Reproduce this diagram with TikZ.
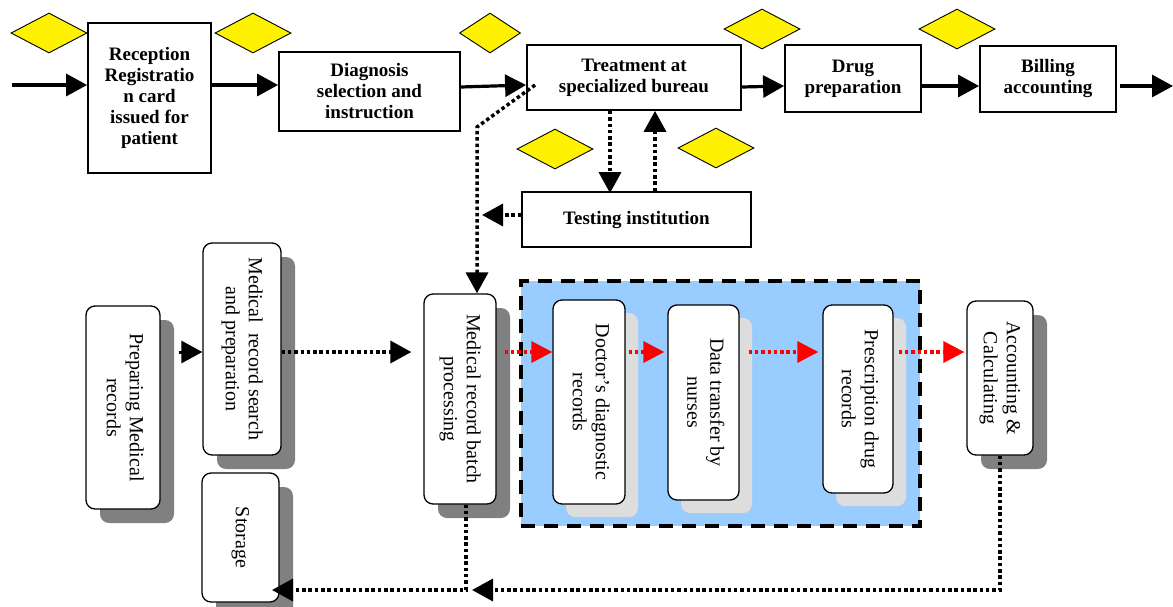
\documentclass[tikz,border=0pt]{standalone}
\usepackage{fontspec}
\setmainfont{Liberation Serif}
\usetikzlibrary{arrows.meta,shapes.geometric,shadows}
\definecolor{panelblue}{RGB}{153,204,255}
\definecolor{lightsh}{RGB}{221,221,221}
\newcommand{\vtext}[1]{\rotatebox[origin=c]{-90}{\begin{tabular}{@{}c@{}}#1\end{tabular}}}
\begin{document}
\begin{tikzpicture}[x=1pt,y=-1pt,
  topbox/.style={draw, line width=1.8pt, fill=white, inner sep=0pt, align=center,
    font=\bfseries\fontsize{19}{21}\selectfont},
  dia/.style={diamond, draw, line width=0.9pt, fill=yellow, inner sep=0pt,
    minimum width=76pt, minimum height=40pt},
  vbox/.style={draw, line width=1.3pt, fill=white, rounded corners=9pt, inner sep=0pt,
    font=\fontsize{20}{23}\selectfont},
  darksh/.style={general shadow={fill=gray, shadow xshift=14pt, shadow yshift=-14pt}},
  lightshadow/.style={general shadow={fill=lightsh, shadow xshift=13pt, shadow yshift=-13pt}},
  arr/.style={line width=3.2pt, -{Triangle[length=21pt,width=22pt]}},
  dotarr/.style={line width=3.5pt, dash pattern=on 3.5pt off 2.8pt, -{Triangle[length=21pt,width=22pt]}},
  redarr/.style={red, line width=3.5pt, dash pattern=on 3.5pt off 2.8pt, -{Triangle[length=21pt,width=21pt]}},
  panel/.style={draw, fill=panelblue, line width=3.5pt, dash pattern=on 14pt off 9pt}
]
\useasboundingbox (0,0) rectangle (1173,606);

% helper coordinates
\coordinate (y85) at (0,85);
\coordinate (y86) at (0,86);
\coordinate (y87) at (0,87);
\coordinate (y352) at (0,352);
\coordinate (y215) at (0,215);
\coordinate (x610) at (610,0);
\coordinate (x655) at (655,0);
\coordinate (x477) at (477,0);

% panel
\node[panel, minimum width=399pt, minimum height=245pt, inner sep=0pt] (panel) at (720.5,403.5) {};

% top row
\node[topbox, minimum width=123pt, minimum height=150pt] (rec) at (149.5,98)
  {Reception\\Registratio\\n card\\issued for\\patient};
\node[topbox, minimum width=181pt, minimum height=79pt] (diag) at (369.5,91.5)
  {Diagnosis\\selection and\\instruction};
\node[topbox, minimum width=214pt, minimum height=65pt] (treat) at (634,77.5)
  {Treatment at\\specialized bureau};
\node[topbox, minimum width=136pt, minimum height=67pt] (drug) at (853,78.5)
  {Drug\\preparation};
\node[topbox, minimum width=136pt, minimum height=66pt] (bill) at (1048,79)
  {Billing\\accounting};
\node[topbox, minimum width=229pt, minimum height=55pt] (test) at (636.5,219.5)
  {Testing institution};

% diamonds
\node[dia] (d1) at (49,33) {};
\node[dia] (d2) at (253,33) {};
\node[dia, minimum width=61pt] (d3) at (490,33) {};
\node[dia] (d4) at (762,29) {};
\node[dia] (d5) at (957,29) {};
\node[dia] (d6) at (555,149) {};
\node[dia] (d7) at (716,148) {};

% top arrows
\coordinate (start) at (12,85);
\coordinate (endr) at (1173,86);
\draw[arr] (start) -- (rec.west |- y85);
\draw[arr] (rec.east |- y85) -- (diag.west |- y85);
\draw[arr] (diag.east |- y87) -- (treat.west |- y85);
\draw[arr] (treat.east |- y87) -- (drug.west |- y86);
\draw[arr] (drug.east |- y86) -- (bill.west |- y86);
\draw[arr] ([xshift=3pt]bill.east |- y86) -- (endr);

% bottom nodes
\node[vbox, darksh, minimum width=74pt, minimum height=203pt] (prep) at (123,407.5)
  {\vtext{Preparing Medical\\records}};
\node[vbox, darksh, minimum width=78pt, minimum height=212pt] (search) at (242,349)
  {\vtext{Medical\ \ record search\\and preparation}};
\node[vbox, darksh, minimum width=77pt, minimum height=129pt] (stor) at (240.5,537.5)
  {\vtext{Storage}};
\node[vbox, darksh, minimum width=72pt, minimum height=210pt] (batch) at (460,399)
  {\vtext{Medical record batch\\processing}};
\node[vbox, lightshadow, minimum width=72pt, minimum height=204pt] (doc) at (589,402)
  {\vtext{Doctor’s diagnostic\\records}};
\node[vbox, lightshadow, minimum width=71pt, minimum height=195pt] (data) at (703.5,402.5)
  {\vtext{Data transfer by\\nurses}};
\node[vbox, lightshadow, minimum width=70pt, minimum height=188pt] (pres) at (858,399)
  {\vtext{Prescription drug\\records}};
\node[vbox, darksh, minimum width=66pt, minimum height=154pt] (acc) at (1000,378)
  {\vtext{Accounting \&\\Calculating}};

% treatment / testing connectors
\coordinate (leftend) at (482,215);
\coordinate (bend) at (477,127);
\draw[dotarr] (treat.south -| x610) -- ([yshift=-2pt]test.north -| x610);
\draw[dotarr] (test.north -| x655) -- (treat.south -| x655);
\draw[dotarr] (test.west |- y215) -- (leftend);
\draw[dotarr] ([xshift=9pt]treat.west |- y85) -- (bend) -- (batch.north -| x477);

% bottom connectors
\coordinate (fbA) at (472,590);
\coordinate (fbB) at (272,590);
\draw[arr, line width=3pt] ([xshift=18pt]prep.east |- y352) -- (search.west |- y352);
\draw[dotarr] (search.east |- y352) -- ([xshift=-12pt]batch.west |- y352);
\draw[redarr] ([xshift=8pt]batch.east |- y352) -- (doc.west |- y352);
\draw[redarr] ([xshift=3pt]doc.east |- y352) -- ([xshift=-3pt]data.west |- y352);
\draw[redarr] ([xshift=9pt]data.east |- y352) -- ([xshift=-4pt]pres.west |- y352);
\draw[redarr] ([xshift=5pt]pres.east |- y352) -- ([xshift=-2pt]acc.west |- y352);
\draw[dotarr] (acc.south) |- (fbA);
\draw[dotarr] ([xshift=6pt]batch.south) |- (fbB);
\end{tikzpicture}
\end{document}
